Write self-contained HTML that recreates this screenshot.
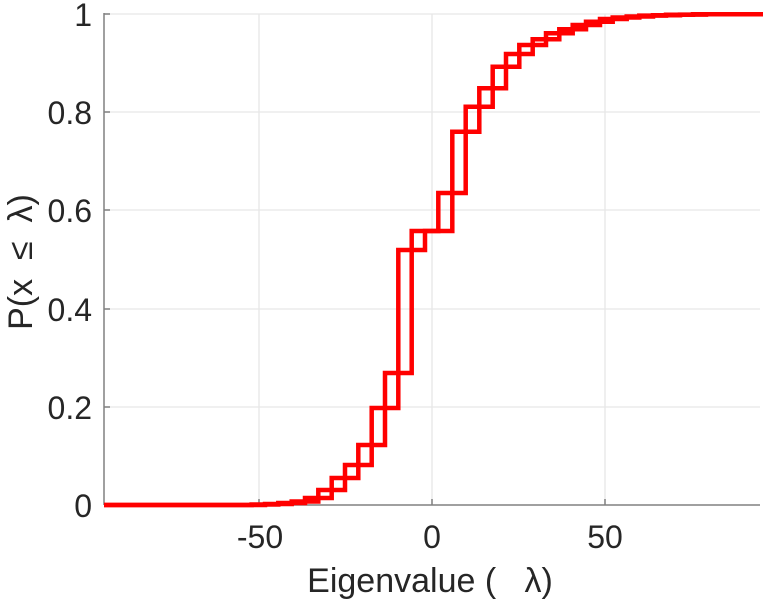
<!DOCTYPE html>
<html><head><meta charset="utf-8"><style>
html,body{margin:0;padding:0;background:#fff;}
svg{display:block;font-family:"Liberation Sans",Arial,sans-serif;}
</style></head><body>
<svg width="763" height="600" viewBox="0 0 763 600" xmlns="http://www.w3.org/2000/svg">
<defs><clipPath id="c"><rect x="104" y="8" width="659" height="500"/></clipPath></defs>
<g stroke="#e6e6e6" stroke-width="1.3">
<line x1="104" y1="14" x2="760" y2="14"/>
<line x1="104" y1="112" x2="760" y2="112"/>
<line x1="104" y1="210" x2="760" y2="210"/>
<line x1="104" y1="309" x2="760" y2="309"/>
<line x1="104" y1="407" x2="760" y2="407"/>
<line x1="259" y1="14" x2="259" y2="505"/>
<line x1="432" y1="14" x2="432" y2="505"/>
<line x1="605" y1="14" x2="605" y2="505"/>
</g>
<g stroke="#808080" stroke-width="1.5">
<line x1="104" y1="13" x2="104" y2="505"/>
<line x1="104" y1="505" x2="760" y2="505"/>
<line x1="104" y1="14" x2="110" y2="14"/><line x1="104" y1="112" x2="110" y2="112"/><line x1="104" y1="210" x2="110" y2="210"/><line x1="104" y1="309" x2="110" y2="309"/><line x1="104" y1="407" x2="110" y2="407"/>
<line x1="259" y1="505" x2="259" y2="499"/><line x1="432" y1="505" x2="432" y2="499"/><line x1="605" y1="505" x2="605" y2="499"/>
</g>
<g clip-path="url(#c)" fill="none" stroke="#ff0000" stroke-width="4.5" stroke-linejoin="miter">
<path d="M104,505 H251.6 V504.5 H278.3 V503 H305 V498 H331.7 V478 H358.3 V445 H385 V373 H411.7 V231 H438.3 V193 H465.7 V106.7 H492.7 V66.7 H519.3 V45 H546 V33.3 H572.7 V25 H600 V19 H626.7 V16.5 H653 V15.2 H680 V14.6 H706 V14.2 H763"/>
<path d="M104,505 H265 V504 H291.7 V501.5 H318.3 V490 H345 V465 H371.7 V408 H398.3 V250 H425 V231 H452.3 V131.7 H479.3 V88.3 H506 V54 H532.7 V39.3 H559.3 V29.3 H586 V21.7 H612.7 V17.5 H639.3 V15.6 H666 V14.8 H693 V14.3 H763"/>
</g>
<g fill="#262626" font-size="32" text-anchor="end">
<text x="92" y="26">1</text>
<text x="92" y="124">0.8</text>
<text x="92" y="222">0.6</text>
<text x="92" y="321">0.4</text>
<text x="92" y="419">0.2</text>
<text x="92" y="517">0</text>
</g>
<g fill="#262626" font-size="32" text-anchor="middle">
<text x="260" y="548">-50</text>
<text x="432" y="548">0</text>
<text x="605" y="548">50</text>
<text x="430" y="592" font-size="34" xml:space="preserve">Eigenvalue (   λ)</text>
<text transform="translate(32,262) rotate(-90)" font-size="34" xml:space="preserve">P(x  ≤  λ)</text>
</g>
</svg>
</body></html>
